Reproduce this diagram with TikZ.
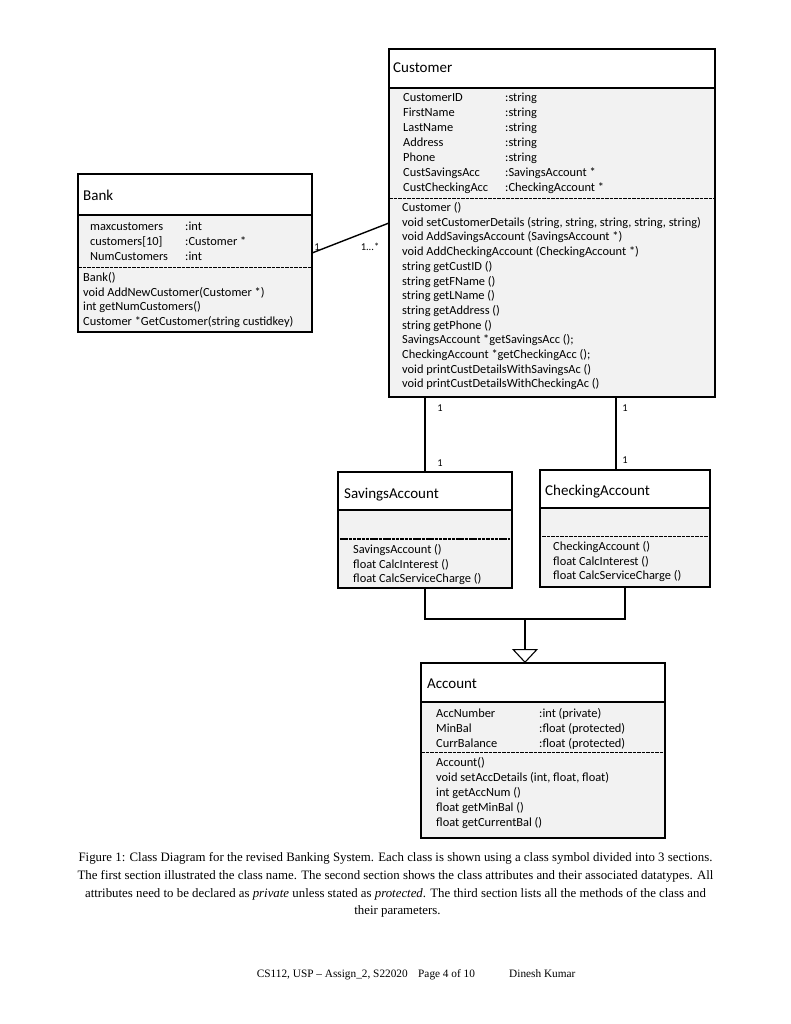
\documentclass[tikz,border=0pt]{standalone}
\usepackage{fontspec}
\setmainfont{Liberation Serif}
\newfontfamily\calfont{Carlito}
\usetikzlibrary{arrows.meta}
\definecolor{secgray}{HTML}{F2F2F2}
\newcommand{\bodyfont}{\calfont\fontsize{12.4}{14.7}\selectfont}
\newcommand{\titlefont}{\calfont\fontsize{15}{18}\selectfont}
\begin{document}
\begin{tikzpicture}[x=1pt,y=-1pt,
  classbox/.style={draw, line width=1.4pt, inner sep=0pt, outer sep=0pt, anchor=north west, rectangle},
  secfill/.style={fill=secgray},
  sepline/.style={line width=1.1pt},
  dashsep/.style={line width=0.9pt, dash pattern=on 3.5pt off 1pt},
  ctitle/.style={anchor=base west, inner sep=0pt, font=\titlefont},
  rowtxt/.style={anchor=base west, inner sep=0pt, font=\bodyfont},
  mult/.style={anchor=base, inner sep=0pt, font=\calfont\fontsize{10.5}{12}\selectfont},
  conn/.style={line width=1.4pt},
  capline/.style={anchor=base, inner sep=0pt, font=\fontsize{12.85}{15}\selectfont},
  foot/.style={inner sep=0pt, font=\fontsize{11.3}{14}\selectfont}
]
\useasboundingbox[fill=white] (0,0) rectangle (791,1024);

% ---------------- Customer ----------------
\fill[secfill] (389,88) rectangle (715,397);
\node[classbox, minimum width=326pt, minimum height=348pt] (cust) at (389,49) {};
\draw[sepline] (389,88) -- (715,88);
\draw[dashsep] (389,198) -- (715,198);
\node[ctitle] (custtitle) at (393,73) {Customer};
\foreach \n/\t [count=\i from 0] in {CustomerID/:string, FirstName/:string, LastName/:string, Address/:string, Phone/:string, CustSavingsAcc/{:SavingsAccount *}, CustCheckingAcc/{:CheckingAccount *}} {
  \node[rowtxt] (custan\i) at (403,{101.5+15*\i}) {\n};
  \node[rowtxt] (custat\i) at (505,{101.5+15*\i}) {\t};
}
\foreach \m [count=\i from 0] in {{Customer ()}, {void setCustomerDetails (string, string, string, string, string)}, {void AddSavingsAccount (SavingsAccount *)}, {void AddCheckingAccount (CheckingAccount *)}, {string getCustID ()}, {string getFName ()}, {string getLName ()}, {string getAddress ()}, {string getPhone ()}, {SavingsAccount *getSavingsAcc ();}, {CheckingAccount *getCheckingAcc ();}, {void printCustDetailsWithSavingsAc ()}, {void printCustDetailsWithCheckingAc ()}} {
  \node[rowtxt] (custm\i) at (402,{211.5+14.7*\i}) {\m};
}

% ---------------- Bank ----------------
\fill[secfill] (78,215) rectangle (312,332);
\node[classbox, minimum width=234pt, minimum height=158pt] (bank) at (78,174) {};
\draw[sepline] (78,215) -- (312,215);
\draw[dashsep] (78,267) -- (312,267);
\node[ctitle] (banktitle) at (83,201) {Bank};
\foreach \n/\t [count=\i from 0] in {maxcustomers/:int, {customers[10]}/{:Customer *}, NumCustomers/:int} {
  \node[rowtxt] (bankan\i) at (90,{230.5+15*\i}) {\n};
  \node[rowtxt] (bankat\i) at (185,{230.5+15*\i}) {\t};
}
\foreach \m [count=\i from 0] in {{Bank()}, {void AddNewCustomer(Customer *)}, {int getNumCustomers()}, {Customer *GetCustomer(string custidkey)}} {
  \node[rowtxt] (bankm\i) at (83,{281.5+14.7*\i}) {\m};
}

% ---------------- SavingsAccount ----------------
\fill[secfill] (338,510) rectangle (512,588);
\node[classbox, minimum width=174pt, minimum height=116pt] (sav) at (338,472) {};
\draw[sepline] (338,510) -- (512,510);
\draw[line width=1.6pt, dash pattern=on 3.5pt off 0.8pt] (340,539) -- (510,539);
\node[ctitle] (savtitle) at (344,498) {SavingsAccount};
\foreach \m [count=\i from 0] in {{SavingsAccount ()}, {float CalcInterest ()}, {float CalcServiceCharge ()}} {
  \node[rowtxt] (savm\i) at (353,{553.5+14.6*\i}) {\m};
}

% ---------------- CheckingAccount ----------------
\fill[secfill] (540,508) rectangle (710,587);
\node[classbox, minimum width=170pt, minimum height=117pt] (chk) at (540,470) {};
\draw[sepline] (540,508) -- (710,508);
\draw[dashsep] (542,536) -- (708,536);
\node[ctitle] (chktitle) at (545,495) {CheckingAccount};
\foreach \m [count=\i from 0] in {{CheckingAccount ()}, {float CalcInterest ()}, {float CalcServiceCharge ()}} {
  \node[rowtxt] (chkm\i) at (553,{550.5+14.6*\i}) {\m};
}

% ---------------- Account ----------------
\fill[secfill] (421,702) rectangle (665,838);
\node[classbox, minimum width=244pt, minimum height=175pt] (acc) at (421,663) {};
\draw[sepline] (421,702) -- (665,702);
\draw[dashsep] (421,752) -- (665,752);
\node[ctitle] (acctitle) at (427,688) {Account};
\foreach \n/\t [count=\i from 0] in {AccNumber/{:int (private)}, MinBal/{:float (protected)}, CurrBalance/{:float (protected)}} {
  \node[rowtxt] (accan\i) at (436,{717.5+15*\i}) {\n};
  \node[rowtxt] (accat\i) at (539,{717.5+15*\i}) {\t};
}
\foreach \m [count=\i from 0] in {{Account()}, {void setAccDetails (int, float, float)}, {int getAccNum ()}, {float getMinBal ()}, {float getCurrentBal ()}} {
  \node[rowtxt] (accm\i) at (436,{766.5+15*\i}) {\m};
}

% ---------------- Connectors ----------------
\draw[conn] (bank.east) -- (cust.west);
\node[mult] (mBank) at (317,251) {1};
\node[mult] (mCust) at (370,251) {1...*};

\draw[conn] (sav.north) -- (sav.north |- cust.south);
\coordinate (chkTop) at ([xshift=-9pt]chk.north);
\draw[conn] (chkTop) -- (chkTop |- cust.south);
\node[mult] (mS1) at (440,411) {1};
\node[mult] (mS2) at (440,466) {1};
\node[mult] (mC1) at (625,411) {1};
\node[mult] (mC2) at (625,463) {1};

\coordinate (gj) at (525,619);
\draw[conn] (sav.south) -- (sav.south |- gj) -- (chk.south |- gj) -- (chk.south);
\draw[conn, -{Triangle[open, width=26pt, length=14pt, line width=1.1pt]}] (gj) -- (gj |- acc.north);

% ---------------- Caption ----------------
\node[capline] (cap1) at (395.5,861) {Figure 1: Class Diagram for the revised Banking System. Each class is shown using a class symbol divided into 3 sections.};
\node[capline] (cap2) at (395.5,879) {The first section illustrated the class name. The second section shows the class attributes and their associated datatypes. All};
\node[capline] (cap3) at (395.5,897) {attributes need to be declared as \textit{private} unless stated as \textit{protected}. The third section lists all the methods of the class and};
\node[capline] (cap4) at (397.5,914) {their parameters.};

% ---------------- Footer ----------------
\node[foot, anchor=base east] (f1) at (408,977) {CS112, USP -- Assign\_2, S22020};
\node[foot, anchor=base west] (f2) at (418,977) {Page 4 of 10};
\node[foot, anchor=base west] (f3) at (509,977) {Dinesh Kumar};
\end{tikzpicture}
\end{document}
